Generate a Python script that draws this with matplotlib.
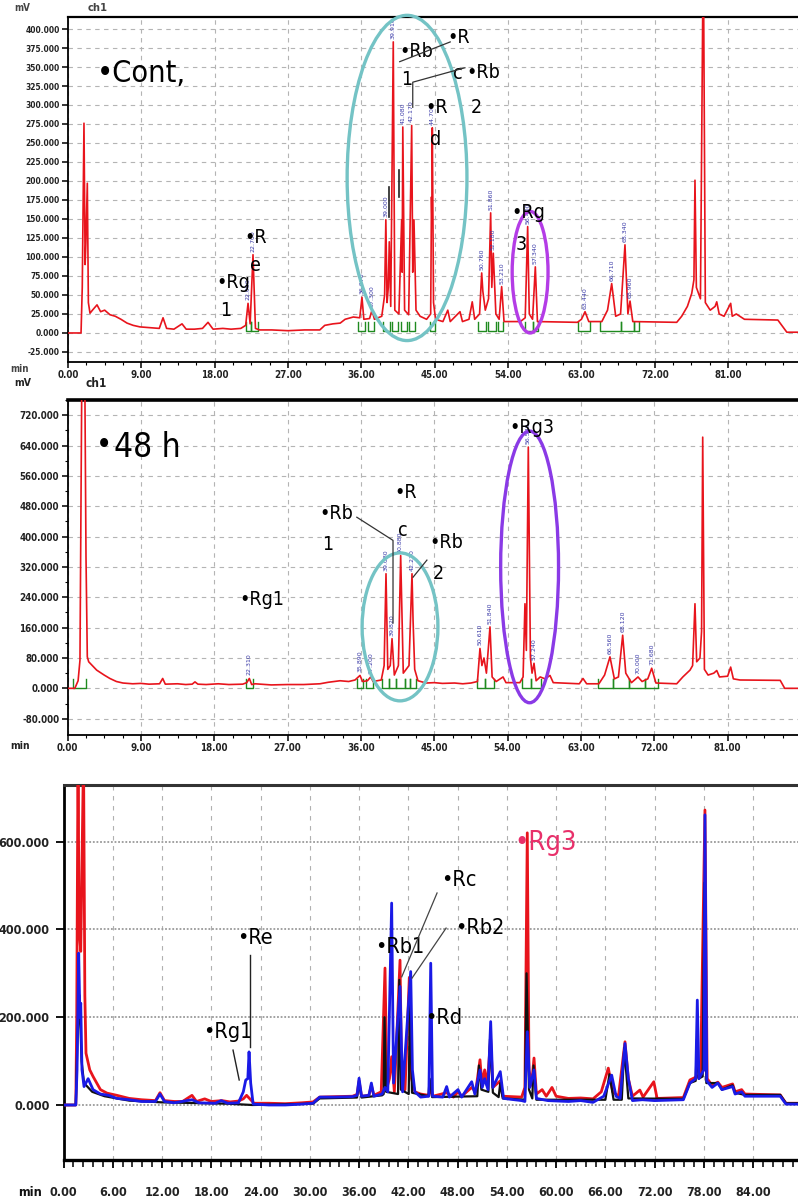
import os
import matplotlib
matplotlib.use("Agg")
import matplotlib.pyplot as plt
import matplotlib.font_manager as fm
from matplotlib.font_manager import FontProperties
from matplotlib.patches import Ellipse

# ---------------- data: retention time (min), detector signal (mV) ----------------
# Control extract
cont_trace = [
    (0, 0), (1.6, 0), (1.75, 60), (1.96, 276), (2.1, 90), (2.2, 120), (2.37, 197), (2.5, 40),
    (2.7, 26), (3.0, 30), (3.56, 37), (4.0, 28), (4.5, 30), (5.15, 24), (5.8, 22), (6.5, 18),
    (7.24, 13), (8.0, 10), (8.83, 8), (10.0, 7), (11.2, 6), (11.66, 20), (12.1, 6), (13.0, 5),
    (13.99, 12), (14.5, 5), (15.5, 5), (16.5, 6), (17.18, 14), (17.8, 5), (19.0, 6), (20.0, 5),
    (21.2, 6), (21.8, 10), (22.09, 39), (22.35, 12), (22.7, 103), (23.0, 6), (23.5, 4), (25.0, 4),
    (27.0, 3), (29.0, 4), (30.9, 4), (31.5, 10), (32.5, 12), (33.4, 13), (34.0, 18), (35.0, 21),
    (35.8, 20), (36.07, 47), (36.3, 18), (37.0, 19), (37.3, 30), (37.6, 18), (38.5, 22),
    (38.85, 50), (39.0, 149), (39.15, 40), (39.3, 60), (39.42, 120), (39.6, 35), (39.91, 383),
    (40.1, 30), (40.6, 25), (40.94, 149), (41.0, 80), (41.08, 271), (41.3, 30), (41.8, 24),
    (42.17, 273), (42.3, 80), (42.45, 149), (42.7, 30), (43.2, 22), (44.0, 18), (44.5, 25),
    (44.6, 179), (44.65, 150), (44.7, 270), (44.85, 40), (45.1, 18), (46.0, 15), (46.6, 30),
    (46.9, 15), (48.1, 28), (48.4, 15), (49.2, 18), (49.6, 41), (49.9, 18), (50.5, 25),
    (50.76, 79), (50.9, 55), (51.2, 30), (51.6, 45), (51.86, 158), (52.0, 60), (52.18, 105),
    (52.5, 25), (52.9, 18), (53.21, 61), (53.5, 15), (55.5, 15), (56.1, 20), (56.4, 140),
    (56.6, 25), (57.0, 18), (57.34, 87), (57.6, 15), (62.5, 14), (63.0, 18), (63.44, 28),
    (63.9, 15), (65.5, 15), (66.2, 30), (66.71, 65), (67.2, 22), (67.8, 25), (68.34, 116),
    (68.7, 25), (68.96, 42), (69.3, 15), (74.69, 14), (75.3, 22), (76.0, 35), (76.53, 52),
    (76.8, 70), (76.93, 201), (77.1, 60), (77.6, 45), (77.95, 520), (78.2, 40), (78.8, 30),
    (79.4, 35), (79.6, 41), (79.9, 25), (80.5, 22), (81.31, 39), (81.5, 22), (82.0, 25),
    (83.0, 18), (87.1, 17), (88.2, 1), (91, 1),
]

# Extract after 48 h
h48_trace = [
    (0, 0), (0.9, 0), (1.3, 20), (1.53, 74), (1.66, 514), (1.78, 900), (2.1, 900), (2.27, 346),
    (2.43, 83), (2.6, 70), (3.58, 48), (4.5, 35), (5.2, 26), (6.0, 18), (6.8, 14), (8.0, 12),
    (9.0, 13), (10.0, 11), (11.3, 12), (11.68, 26), (12.0, 11), (13.5, 12), (14.5, 10),
    (15.3, 11), (15.64, 17), (16.0, 11), (17.0, 10), (18.5, 12), (19.8, 10), (21.5, 11),
    (22.0, 15), (22.31, 26), (22.6, 10), (23.0, 12), (25.0, 9), (27.0, 10), (29.0, 10),
    (30.98, 12), (32.0, 16), (33.44, 20), (34.5, 18), (35.28, 22), (35.89, 34), (36.2, 18),
    (36.8, 20), (37.2, 30), (37.5, 18), (38.5, 22), (38.85, 60), (39.08, 302), (39.3, 50),
    (39.6, 60), (39.82, 131), (40.1, 35), (40.6, 60), (40.88, 350), (41.04, 197), (41.2, 40),
    (41.9, 60), (42.27, 302), (42.4, 179), (42.6, 50), (43.0, 20), (44.0, 14), (45.0, 15),
    (46.0, 13), (47.5, 14), (48.5, 12), (49.5, 14), (50.3, 18), (50.61, 105), (50.85, 60),
    (51.1, 80), (51.4, 40), (51.84, 162), (52.1, 30), (52.6, 18), (53.44, 30), (53.8, 15),
    (55.5, 15), (55.9, 30), (56.13, 223), (56.3, 100), (56.54, 636), (56.8, 80), (57.0, 40),
    (57.24, 66), (57.5, 20), (58.0, 30), (58.6, 25), (59.2, 34), (59.6, 15), (62.8, 12),
    (63.25, 26), (63.7, 12), (65.2, 12), (65.9, 35), (66.56, 83), (67.1, 25), (67.6, 30),
    (68.12, 140), (68.5, 40), (69.2, 15), (70.0, 30), (70.5, 18), (71.2, 25), (71.68, 53),
    (72.2, 14), (74.75, 12), (75.5, 30), (76.38, 48), (76.7, 60), (76.99, 223), (77.2, 70),
    (77.6, 80), (77.8, 150), (77.94, 662), (78.15, 50), (78.6, 35), (79.3, 40), (79.66, 47),
    (80.0, 30), (81.0, 32), (81.37, 56), (81.7, 25), (82.5, 22), (87.45, 21), (88.0, 0), (91, 0),
]

# Overlay: red, blue and black runs
overlay_red = [
    (0, 0), (1.5, 0), (1.61, 200), (1.77, 800), (1.9, 400), (2.1, 350), (2.44, 800), (2.6, 250),
    (2.74, 118), (3.2, 80), (3.6, 65), (4.5, 35), (5.3, 27), (6.5, 22), (8.0, 15), (9.5, 12),
    (11.2, 10), (11.75, 28), (12.3, 10), (13.5, 8), (14.5, 8), (15.65, 22), (16.2, 8), (17.2, 14),
    (18.0, 8), (19.3, 10), (20.3, 7), (21.3, 9), (21.9, 14), (22.3, 22), (22.8, 12), (23.2, 4),
    (25.0, 4), (27.0, 3), (29.0, 5), (30.4, 7), (31.2, 18), (33.0, 19), (35.2, 20), (35.75, 24),
    (36.0, 55), (36.3, 20), (37.2, 22), (37.5, 45), (37.8, 22), (38.7, 30), (39.16, 312),
    (39.4, 40), (39.7, 60), (39.97, 110), (40.3, 30), (40.99, 330), (41.2, 50), (41.6, 35),
    (42.12, 290), (42.4, 60), (42.8, 30), (43.5, 25), (44.5, 22), (44.73, 40), (45.0, 20),
    (46.67, 28), (47.5, 18), (48.05, 30), (48.5, 20), (49.72, 40), (50.2, 30), (50.73, 103),
    (50.95, 50), (51.3, 80), (51.6, 45), (52.03, 150), (52.3, 40), (53.2, 55), (53.5, 20),
    (55.8, 18), (56.2, 40), (56.49, 620), (56.7, 80), (57.0, 45), (57.31, 107), (57.6, 25),
    (58.3, 35), (58.8, 20), (59.5, 40), (60.0, 20), (61.5, 15), (63.0, 16), (64.5, 14),
    (65.5, 30), (66.36, 84), (66.9, 30), (67.6, 20), (68.39, 144), (68.8, 60), (69.3, 20),
    (70.2, 34), (70.6, 18), (71.9, 53), (72.3, 15), (75.5, 17), (76.3, 57), (77.2, 65),
    (77.6, 70), (78.13, 672), (78.4, 60), (79.0, 45), (79.7, 52), (80.2, 40), (81.5, 48),
    (81.8, 30), (82.6, 35), (83.0, 25), (87.3, 23), (88.0, 4), (91, 4),
]
overlay_blue = [
    (0, 0), (1.5, 0), (1.65, 80), (1.85, 346), (2.0, 200), (2.1, 232), (2.25, 80), (2.5, 42),
    (3.0, 60), (3.6, 35), (4.5, 25), (5.5, 22), (6.5, 15), (8.0, 12), (9.5, 8), (11.2, 8),
    (11.75, 25), (12.3, 8), (13.5, 5), (15.65, 12), (16.5, 5), (18.5, 4), (19.2, 10), (20.0, 4),
    (21.3, 5), (21.9, 30), (22.2, 57), (22.45, 60), (22.6, 121), (22.8, 50), (23.1, 2), (25.0, 0),
    (27.0, 0), (29.0, 2), (30.4, 4), (31.2, 18), (33.0, 18), (35.2, 19), (35.75, 22), (36.0, 61),
    (36.3, 20), (37.2, 22), (37.5, 50), (37.8, 20), (38.8, 25), (39.16, 40), (39.5, 30),
    (39.97, 460), (40.2, 50), (40.99, 270), (41.3, 30), (42.29, 304), (42.5, 80), (42.8, 30),
    (43.5, 18), (44.5, 20), (44.73, 323), (44.95, 20), (46.2, 18), (46.67, 42), (47.0, 18),
    (48.05, 35), (48.5, 18), (49.72, 53), (50.1, 25), (50.73, 80), (51.0, 40), (51.3, 60),
    (51.7, 35), (52.03, 190), (52.3, 40), (53.2, 76), (53.6, 15), (55.8, 10), (56.2, 8),
    (56.49, 167), (56.8, 40), (57.31, 80), (57.6, 15), (59.0, 10), (61.5, 8), (63.0, 10),
    (64.5, 6), (65.8, 20), (66.77, 68), (67.3, 20), (67.8, 15), (68.39, 140), (68.8, 60),
    (69.3, 10), (70.5, 12), (72.0, 10), (75.5, 12), (76.3, 50), (77.0, 60), (77.2, 239),
    (77.4, 60), (78.0, 80), (78.13, 661), (78.35, 55), (79.0, 40), (79.7, 50), (80.2, 35),
    (81.5, 42), (81.8, 25), (82.6, 30), (83.0, 20), (87.3, 20), (88.0, 2), (91, 2),
]
overlay_black = [
    (0, 0), (1.5, 0), (1.7, 150), (1.95, 250), (2.2, 100), (2.5, 50), (3.5, 30), (5.0, 20),
    (8.0, 10), (12.0, 6), (20.0, 3), (23.0, 0), (30.4, 3), (31.2, 15), (35.75, 17), (36.0, 50),
    (36.3, 17), (38.8, 22), (39.0, 25), (39.1, 200), (39.3, 30), (40.75, 25), (40.9, 285),
    (41.1, 35), (42.05, 25), (42.2, 250), (42.45, 28), (44.45, 20), (44.6, 60), (44.9, 18),
    (50.4, 20), (50.6, 90), (50.9, 35), (51.75, 30), (51.95, 150), (52.3, 28), (53.0, 18),
    (53.2, 50), (53.5, 15), (56.2, 12), (56.4, 300), (56.7, 35), (57.1, 15), (57.25, 90),
    (57.6, 12), (66.0, 12), (66.5, 70), (67.0, 12), (68.0, 12), (68.3, 130), (68.8, 15),
    (75.5, 14), (76.3, 50), (77.0, 55), (77.15, 150), (77.35, 60), (77.85, 65), (78.05, 506),
    (78.3, 50), (79.7, 50), (80.2, 35), (81.5, 45), (81.8, 28), (83.0, 23), (87.3, 23),
    (88.0, 4), (91, 4),
]

# integration marks (start, end) of the integrated peak windows
cont_windows = [(21.8, 22.4), (22.4, 23.3), (35.6, 36.5), (36.8, 37.6), (38.7, 39.5),
                (39.7, 40.5), (40.8, 41.6), (41.9, 42.6), (44.4, 45.0), (50.3, 51.3),
                (51.5, 52.5), (52.7, 53.4), (56.1, 57.0), (57.0, 57.7), (62.6, 64.0),
                (65.3, 67.8), (67.8, 69.4), (69.4, 70.1)]
h48_windows = [(0.7, 2.3), (21.9, 22.7), (35.5, 36.3), (36.6, 37.5), (38.6, 39.4),
               (39.4, 40.3), (40.3, 41.4), (41.4, 42.0), (42.0, 42.7), (50.3, 51.2),
               (51.2, 52.3), (55.8, 56.9), (56.9, 58.1), (65.1, 66.9), (66.9, 68.9),
               (68.9, 70.9), (70.9, 72.5)]

# retention times printed by the integrator
cont_rt = [22.09, 22.70, 36.07, 37.30, 39.00, 39.91, 41.08, 42.17, 44.70, 50.76, 51.86,
           52.18, 53.21, 56.40, 57.34, 63.44, 66.71, 68.34, 68.96]
h48_rt = [22.31, 35.89, 37.20, 39.08, 39.82, 40.88, 42.27, 50.61, 51.84, 56.54, 57.24,
          66.56, 68.12, 70.00, 71.68]

# axis ticks
hplc_xticks = [0, 9, 18, 27, 36, 45, 54, 63, 72, 81]
cont_yticks = [-25, 0, 25, 50, 75, 100, 125, 150, 175, 200, 225, 250, 275, 300, 325, 350,
               375, 400]
h48_yticks = [-80, 0, 80, 160, 240, 320, 400, 480, 560, 640, 720]
overlay_xticks = [0, 6, 12, 18, 24, 30, 36, 42, 48, 54, 60, 66, 72, 78, 84]
overlay_yticks = [0, 200, 400, 600]


# ---------------- fonts: a narrow sans face for labels ----------------
def _find_narrow(bold):
    prefs = ["liberation sans narrow", "arial narrow", "dejavu sans condensed",
             "roboto condensed", "open sans condensed", "noto sans condensed",
             "dejavu sans", "noto sans", "open sans", "roboto"]
    found = []
    for f in fm.fontManager.ttflist:
        nm = f.name.lower()
        fn = os.path.basename(f.fname).lower()
        narrow = ("narrow" in fn or "condensed" in fn or "narrow" in nm or "condensed" in nm
                  or f.stretch in ("condensed", "semi-condensed"))
        if not narrow:
            continue
        if any(k in fn for k in ("italic", "oblique", "light", "thin", "medium", "black",
                                 "semibold", "extrabold", "extracondensed", "semicondensed",
                                 "extra", "semi")):
            continue
        w = f.weight if isinstance(f.weight, int) else (700 if "bold" in str(f.weight) else 400)
        is_bold = w >= 600 or "bold" in fn
        if is_bold != bold:
            continue
        rank = len(prefs)
        for i, p in enumerate(prefs):
            if nm.startswith(p) or fn.replace("-", " ").startswith(p.replace(" ", "")):
                rank = min(rank, i)
        found.append((rank, f.fname))
    found.sort()
    return found[0][1] if found else None


NARROW_REG = _find_narrow(False)
NARROW_BOLD = _find_narrow(True) or NARROW_REG


def nfont(size, bold=False):
    path = NARROW_BOLD if bold else NARROW_REG
    if path:
        return FontProperties(fname=path, size=size)
    return FontProperties(family=["Liberation Sans", "DejaVu Sans"], size=size * 0.88,
                          weight="bold" if bold else "normal")


# ---------------- figure ----------------
W, H = 798, 1204
fig = plt.figure(figsize=(W / 100, H / 100), dpi=100)


def px_axes(left, top, right, bottom):
    return fig.add_axes([left / W, 1 - bottom / H, (right - left) / W, (bottom - top) / H])


def split(trace):
    return [p[0] for p in trace], [p[1] for p in trace]


def trace_value(trace, t):
    xs, ys = split(trace)
    for i in range(len(xs) - 1):
        if xs[i] <= t <= xs[i + 1]:
            f = (t - xs[i]) / (xs[i + 1] - xs[i]) if xs[i + 1] > xs[i] else 0
            return ys[i] + f * (ys[i + 1] - ys[i])
    return ys[-1]


def set_ticks(ax, xt, xminor, yt, yminor, xsize, ysize, xfmt="%.2f", yfmt="%.3f"):
    ax.set_xticks(xt)
    ax.set_xticklabels([xfmt % v for v in xt], fontproperties=nfont(xsize, True),
                       color="#222222")
    ax.set_yticks(yt)
    ax.set_yticklabels([yfmt % v for v in yt], fontproperties=nfont(ysize, True),
                       color="#222222")
    if xminor is not None:
        ax.set_xticks(xminor, minor=True)
    if yminor is not None:
        ax.set_yticks(yminor, minor=True)


def hplc_axes(ax, xlim, ylim, yt, yminor, ysize):
    ax.set_xlim(*xlim)
    ax.set_ylim(*ylim)
    ax.grid(True, which="major", ls=(0, (4, 4)), color="#b4b4b4", lw=0.8)
    xminor = [i * 2.25 for i in range(int(xlim[1] / 2.25) + 1)]
    set_ticks(ax, hplc_xticks, xminor, yt, yminor, 7, ysize)
    ax.spines["right"].set_visible(False)
    for s in ("left", "bottom"):
        ax.spines[s].set_linewidth(1.3)
    ax.tick_params(which="major", length=4, width=1.1, pad=2)
    ax.tick_params(which="minor", length=2.5, width=0.8)


def green_marks(ax, windows, lo, hi):
    for a, b in windows:
        ax.plot([a, a, b, b], [hi, lo, lo, hi], color="#1f8a1f", lw=1.0, zorder=3)


def label(ax, t, v, s, size, color="black"):
    ax.text(t, v, s, fontproperties=nfont(size), color=color, ha="left", va="center", zorder=6)


# ---- control ----
ax1 = px_axes(68, 17, 798, 362)
x, y = split(cont_trace)
ax1.plot(x, y, color="#e8141c", lw=1.2, zorder=4)
green_marks(ax1, cont_windows, 2, 14)
hplc_axes(ax1, (0, (798 - 68) / 8.15), (-38.2, 415.8), cont_yticks, None, 6)
ax1.spines["top"].set_linewidth(1.6)
for t in cont_rt:
    ax1.text(t, trace_value(cont_trace, t) + 4, f"{t:.3f}", rotation=90, fontsize=4.5,
             color="#3a3aa8", ha="center", va="bottom", zorder=5)
ax1.add_patch(Ellipse((41.6, 204), 14.7, 428, fill=False, ec="#74c3c5", lw=2.4,
                      clip_on=False, zorder=5))
ax1.add_patch(Ellipse((56.7, 80), 4.4, 160, fill=False, ec="#b43ce6", lw=2.4,
                      clip_on=False, zorder=5))
label(ax1, 3.6, 342, "•Cont,", 22)
label(ax1, 21.6, 126, "•R", 14)
label(ax1, 22.3, 89, "e", 14)
label(ax1, 18.2, 66, "•Rg", 14)
label(ax1, 18.7, 30, "1", 14)
label(ax1, 40.6, 370, "•Rb", 14)
label(ax1, 40.9, 333, "1", 14)
label(ax1, 46.5, 389, "•R", 14)
label(ax1, 47.3, 342, "c", 14)
label(ax1, 48.9, 343, "•Rb", 14)
label(ax1, 49.4, 297, "2", 14)
label(ax1, 43.8, 297, "•R", 14)
label(ax1, 44.4, 254, "d", 14)
label(ax1, 54.4, 158, "•Rg", 14)
label(ax1, 54.9, 116, "3", 14)
ax1.plot([46.9, 40.7], [383, 357], color="#333333", lw=0.9, zorder=6)
ax1.plot([48.7, 42.3, 42.3], [349, 330, 297], color="#333333", lw=0.9, zorder=6)
ax1.plot([39.4, 39.4], [192, 153], color="#222222", lw=1.2, zorder=6)
ax1.plot([40.6, 40.6], [214, 179], color="#222222", lw=1.2, zorder=6)

# ---- 48 h ----
ax2 = px_axes(67.5, 400, 798, 735)
x, y = split(h48_trace)
ax2.plot(x, y, color="#e8141c", lw=1.2, zorder=4)
green_marks(ax2, h48_windows, 1, 25)
hplc_axes(ax2, (0, (798 - 67.5) / 8.15), (-123, 759.5), h48_yticks,
          [v + 40 for v in h48_yticks], 7)
ax2.spines["top"].set_linewidth(2.6)
for t in h48_rt:
    ax2.text(t, trace_value(h48_trace, t) + 8, f"{t:.3f}", rotation=90, fontsize=4.5,
             color="#3a3aa8", ha="center", va="bottom", zorder=5)
ax2.add_patch(Ellipse((40.8, 162), 9.3, 390, fill=False, ec="#74c3c5", lw=2.4,
                      clip_on=False, zorder=5))
ax2.add_patch(Ellipse((56.7, 320), 7.1, 716, fill=False, ec="#8a3ae6", lw=2.4,
                      clip_on=False, zorder=5))
label(ax2, 3.5, 640, "•", 22)
label(ax2, 5.7, 636, "48 h", 24)
label(ax2, 21.1, 233, "•Rg1", 14)
label(ax2, 30.9, 462, "•Rb", 14)
label(ax2, 31.3, 378, "1", 14)
label(ax2, 40.1, 515, "•R", 14)
label(ax2, 40.5, 417, "c", 14)
label(ax2, 44.4, 385, "•Rb", 14)
label(ax2, 44.8, 304, "2", 14)
label(ax2, 54.2, 688, "•Rg3", 14)
ax2.plot([35.5, 39.94, 39.94], [451, 390, 172], color="#333333", lw=0.9, zorder=6)
ax2.plot([44.1, 42.4], [338, 293], color="#333333", lw=0.9, zorder=6)

# ---- overlay ----
ax3 = px_axes(63.5, 785, 798, 1160)
for trace, col, lw in ((overlay_red, "#e8141c", 2.0), (overlay_black, "#111111", 1.6),
                       (overlay_blue, "#1a1ae6", 2.0)):
    x, y = split(trace)
    ax3.plot(x, y, color=col, lw=lw, zorder=4)
ax3.set_xlim(0, (798 - 63.5) / 8.21)
ax3.set_ylim(-125.3, 729)
set_ticks(ax3, overlay_xticks, [i * 1.2 for i in range(75)], overlay_yticks, None, 9, 9)
ax3.grid(True, axis="y", ls=(0, (1, 1)), color="#9a9a9a", lw=1.3)
ax3.grid(True, axis="x", ls=(0, (4, 5)), color="#b0b0b0", lw=0.8)
ax3.spines["right"].set_visible(False)
ax3.spines["top"].set_linewidth(2.2)
ax3.spines["top"].set_color("#333333")
ax3.spines["bottom"].set_linewidth(2.4)
ax3.spines["left"].set_linewidth(2.0)
ax3.tick_params(which="major", length=6, width=1.3, pad=4)
ax3.tick_params(axis="x", which="major", pad=13)
ax3.tick_params(which="minor", length=5, width=1.1)
label(ax3, 21.2, 380, "•Re", 15.5)
label(ax3, 17.0, 166, "•Rg1", 15.5)
label(ax3, 38.0, 360, "•Rb1", 15.5)
label(ax3, 46.0, 513, "•Rc", 15.5)
label(ax3, 47.7, 403, "•Rb2", 15.5)
label(ax3, 44.1, 198, "•Rd", 15.5)
label(ax3, 54.9, 597, "•Rg3", 19.5, color="#e8306a")
ax3.plot([22.7, 22.7], [342, 132], color="#222222", lw=1.0, zorder=6)
ax3.plot([20.65, 21.4], [125, 57], color="#222222", lw=1.0, zorder=6)
ax3.plot([45.5, 41.2], [483, 292], color="#444444", lw=0.9, zorder=6)
ax3.plot([46.6, 42.45], [403, 289], color="#444444", lw=0.9, zorder=6)


# ---- headers ----
def ftext(px, py, s, size, color):
    fig.text(px / W, 1 - py / H, s, ha="left", va="center", fontproperties=nfont(size, True),
             color=color)


ftext(14, 8, "mV", 7, "#444444")
ftext(88, 8, "ch1", 8, "#444444")
ftext(10, 369, "min", 7, "#444444")
ftext(14, 383, "mV", 7.5, "#222222")
ftext(86, 383, "ch1", 8.5, "#222222")
ftext(10, 746, "min", 7.5, "#222222")
ftext(18, 1193, "min", 9, "#111111")

fig.savefig("out.png", dpi=100)
